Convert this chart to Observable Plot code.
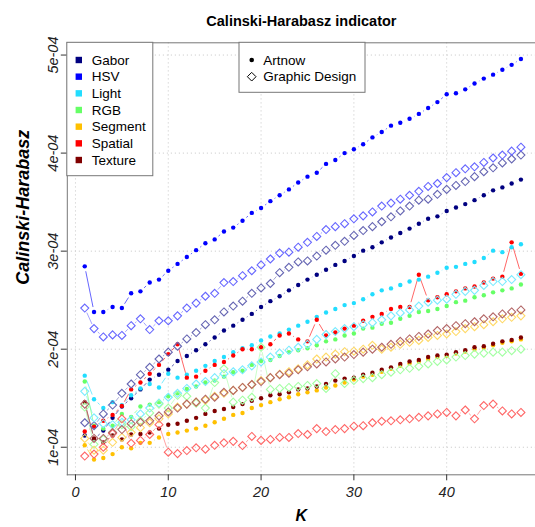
<!DOCTYPE html>
<html><head><meta charset="utf-8">
<script src="https://cdn.jsdelivr.net/npm/d3@7"></script>
<script src="https://cdn.jsdelivr.net/npm/@observablehq/plot@0.6"></script>
<style>
html,body{margin:0;padding:0;background:#fff;}
#chart{width:535px;height:527px;}
</style></head><body><div id="chart"></div>
<script>
// ---- data (values in units of 1e-4) ----
const K = d3.range(1, 49);
const features = ["Gabor","HSV","Light","RGB","Segment","Spatial","Texture"];
const featureColors = ["#000080","#0000FF","#22DDFF","#66FF66","#FFC000","#FF0000","#800000"];
const datasets = ["Artnow","Graphic Design"];

const gaborArtnow = [1.12,1.08,1.17,1.30,1.415,1.50,1.59,1.69,1.74,1.79,1.88,1.93,1.99,2.05,2.12,2.19,2.24,2.30,2.36,2.43,2.49,2.54,2.60,2.655,2.71,2.76,2.81,2.86,2.90,2.95,3.005,3.04,3.09,3.14,3.185,3.23,3.28,3.33,3.355,3.41,3.445,3.48,3.52,3.57,3.62,3.65,3.69,3.73];
const gaborGD = [1.25,1.22,1.34,1.43,1.55,1.645,1.74,1.815,1.90,1.97,2.03,2.105,2.17,2.25,2.30,2.38,2.44,2.49,2.57,2.625,2.67,2.78,2.835,2.89,2.90,2.95,3.01,3.06,3.10,3.16,3.21,3.25,3.30,3.35,3.41,3.46,3.52,3.53,3.58,3.63,3.67,3.71,3.76,3.81,3.85,3.90,3.94,3.98];
const hsvArtnow = [2.845,2.38,2.38,2.43,2.42,2.57,2.59,2.68,2.71,2.80,2.87,2.94,3.01,3.08,3.12,3.20,3.24,3.31,3.39,3.44,3.51,3.57,3.63,3.70,3.76,3.80,3.89,3.93,4.00,4.04,4.09,4.16,4.215,4.28,4.31,4.35,4.40,4.46,4.52,4.60,4.61,4.65,4.71,4.76,4.80,4.85,4.90,4.96];
const hsvGD = [2.42,2.21,2.125,2.146,2.14,2.24,2.31,2.20,2.29,2.29,2.34,2.42,2.47,2.54,2.57,2.68,2.69,2.75,2.80,2.86,2.92,2.98,2.99,3.04,3.09,3.15,3.22,3.25,3.28,3.33,3.36,3.40,3.46,3.49,3.53,3.57,3.61,3.66,3.69,3.75,3.80,3.84,3.86,3.905,3.95,3.98,4.02,4.06];
const lightArtnow = [1.73,1.49,1.40,1.46,1.43,1.53,1.60,1.645,1.61,1.75,1.71,1.74,1.78,1.83,1.88,1.92,1.97,2.01,2.04,2.09,2.13,2.16,2.20,2.24,2.28,2.33,2.375,2.41,2.45,2.47,2.51,2.56,2.60,2.62,2.655,2.69,2.71,2.74,2.78,2.83,2.84,2.87,2.89,2.93,3.005,2.99,3.04,3.07];
const lightGD = [1.57,1.30,1.24,1.23,1.255,1.28,1.34,1.40,1.45,1.51,1.55,1.60,1.645,1.67,1.71,1.75,1.77,1.79,1.83,1.87,1.92,1.96,1.99,2.02,2.05,2.10,2.15,2.18,2.21,2.23,2.25,2.27,2.30,2.34,2.37,2.40,2.44,2.48,2.50,2.51,2.56,2.59,2.60,2.65,2.69,2.69,2.71,2.76];
const rgbArtnow = [1.67,1.22,1.19,1.22,1.34,1.31,1.415,1.435,1.46,1.52,1.55,1.595,1.62,1.66,1.68,1.72,1.765,1.78,1.84,1.88,1.89,1.93,1.97,1.99,2.01,2.04,2.08,2.10,2.14,2.16,2.21,2.22,2.26,2.27,2.31,2.34,2.38,2.39,2.41,2.44,2.48,2.495,2.53,2.55,2.58,2.60,2.62,2.66];
const rgbGD = [1.41,1.03,1.08,1.15,1.23,1.21,1.27,1.35,1.44,1.40,1.53,1.52,1.45,1.40,1.66,1.80,1.46,1.48,1.51,2.02,1.59,1.60,1.61,1.62,1.63,1.65,1.60,1.75,1.65,1.68,1.70,1.71,1.74,1.765,1.79,1.805,1.825,1.85,1.875,1.89,1.92,1.935,1.95,1.96,1.97,1.97,1.985,2.00];
const segmentArtnow = [1.02,0.875,0.89,0.93,1.00,0.99,1.045,1.045,1.10,1.135,1.15,1.17,1.19,1.22,1.255,1.29,1.33,1.35,1.40,1.43,1.46,1.49,1.51,1.54,1.56,1.58,1.61,1.63,1.66,1.69,1.72,1.74,1.77,1.80,1.83,1.855,1.875,1.90,1.92,1.93,1.955,1.975,2.00,2.015,2.04,2.065,2.08,2.10];
const segmentGD = [1.09,0.97,0.97,1.05,1.10,1.15,1.20,1.25,1.29,1.34,1.41,1.44,1.46,1.48,1.52,1.55,1.58,1.61,1.64,1.68,1.71,1.745,1.77,1.80,1.84,1.90,1.92,1.95,1.975,1.98,2.00,2.04,2.00,2.02,2.05,2.07,2.09,2.12,2.14,2.155,2.18,2.21,2.23,2.25,2.28,2.31,2.325,2.34];
const spatialArtnow = [1.16,1.21,1.27,1.33,1.42,1.59,1.66,1.75,1.84,1.95,2.05,1.71,1.72,1.78,1.84,1.87,1.935,2.00,2.00,2.02,2.05,2.14,2.16,2.10,2.08,2.30,2.14,2.17,2.21,2.24,2.29,2.33,2.36,2.41,2.43,2.43,2.76,2.50,2.53,2.56,2.59,2.62,2.64,2.68,2.72,2.74,3.09,2.77];
const spatialGD = [0.91,0.93,1.00,1.14,1.29,1.04,1.07,1.13,1.23,0.95,0.935,0.966,0.994,0.98,1.02,1.045,1.06,1.017,1.11,1.07,1.08,1.10,1.10,1.14,1.13,1.19,1.16,1.18,1.19,1.215,1.22,1.25,1.265,1.27,1.28,1.29,1.305,1.32,1.34,1.355,1.32,1.38,1.29,1.425,1.44,1.37,1.34,1.355];
const textureArtnow = [1.46,1.09,1.05,1.12,1.08,1.13,1.135,1.15,1.19,1.23,1.24,1.27,1.30,1.34,1.37,1.39,1.41,1.44,1.475,1.50,1.53,1.54,1.56,1.59,1.60,1.62,1.645,1.68,1.70,1.71,1.74,1.76,1.79,1.815,1.85,1.875,1.89,1.92,1.935,1.945,1.97,1.99,2.02,2.03,2.055,2.08,2.095,2.12];
const textureGD = [1.44,1.09,1.09,1.15,1.18,1.24,1.255,1.27,1.32,1.36,1.40,1.44,1.46,1.49,1.51,1.56,1.58,1.61,1.64,1.67,1.71,1.74,1.755,1.79,1.82,1.85,1.87,1.90,1.92,1.945,1.97,2.00,2.02,2.05,2.08,2.105,2.13,2.155,2.19,2.21,2.24,2.26,2.28,2.31,2.33,2.36,2.38,2.40];

const xTicks = [0, 10, 20, 30, 40];
const yTicks = [1, 2, 3, 4, 5];
const yTickLabels = ["1e-04","2e-04","3e-04","4e-04","5e-04"];

// ---- build tables ----
const seriesValues = {
  Gabor: [gaborArtnow, gaborGD], HSV: [hsvArtnow, hsvGD], Light: [lightArtnow, lightGD],
  RGB: [rgbArtnow, rgbGD], Segment: [segmentArtnow, segmentGD],
  Spatial: [spatialArtnow, spatialGD], Texture: [textureArtnow, textureGD]
};
const keys = [], keyColors = [];
const pts = [], segs = [];
features.forEach((f, i) => {
  datasets.forEach((ds, j) => {
    const key = f + " / " + ds;
    keys.push(key);
    keyColors.push(j === 0 ? featureColors[i] : d3.interpolateRgb(featureColors[i], "#ffffff")(0.4));
    const vals = seriesValues[f][j];
    vals.forEach((v, t) => {
      pts.push({key, ds, k: K[t], v});
      if (t > 0) segs.push({key, k1: K[t-1], v1: vals[t-1], k2: K[t], v2: v});
    });
  });
});

const font = "'Liberation Sans', Arial, Helvetica, sans-serif";
const plot = Plot.plot({
  width: 535, height: 527,
  marginLeft: 66.8, marginRight: 0, marginTop: 42.3, marginBottom: 52.7,
  x: {domain: [-0.88, 49.57]},
  y: {domain: [0.719, 5.125]},
  color: {domain: keys, range: keyColors},
  style: {fontFamily: font, background: "#fff", overflow: "visible"},
  marks: [
    Plot.gridX(xTicks, {stroke: "#cfcfcf", strokeOpacity: 1, strokeDasharray: "1.2,2.8"}),
    Plot.gridY(yTicks, {stroke: "#cfcfcf", strokeOpacity: 1, strokeDasharray: "1.2,2.8"}),
    Plot.frame({anchor: "left", stroke: "#777"}),
    Plot.frame({anchor: "top", stroke: "#777"}),
    Plot.frame({anchor: "bottom", stroke: "#777"}),
    Plot.axisX(xTicks, {tickSize: 6, tickPadding: 6, fontSize: 14.5, fontStyle: "italic", stroke: "#333", fill: "#222"}),
    Plot.axisY(yTicks, {tickSize: 6, tickRotate: -90, tickFormat: (d) => yTickLabels[yTicks.indexOf(d)], fontSize: 14.5, fontStyle: "italic", stroke: "#333", fill: "#222"}),
    Plot.arrow(segs, {x1: "k1", y1: "v1", x2: "k2", y2: "v2", stroke: "key", strokeOpacity: 0.6, strokeWidth: 1,
      headLength: 0, insetStart: 5, insetEnd: 5, strokeLinecap: "butt"}),
    Plot.dot(pts.filter(d => d.ds === "Artnow"), {x: "k", y: "v", r: 2.2, fill: "key", stroke: null}),
    Plot.dot(pts.filter(d => d.ds !== "Artnow"), {x: "k", y: "v", r: 3.6, symbol: "diamond2", stroke: "key", fill: "none", strokeWidth: 1.1}),
    Plot.text(["Calinski-Harabasz indicator"], {frameAnchor: "top", dy: -27, fontWeight: "bold", fontSize: 14.5, fill: "#000"}),
    Plot.text(["Calinski-Harabasz"], {frameAnchor: "left", dx: -44, dy: 26, rotate: -90, fontWeight: "bold", fontStyle: "italic", fontSize: 18, fill: "#000"}),
    Plot.text(["K"], {frameAnchor: "bottom", dy: 46, fontWeight: "bold", fontStyle: "italic", fontSize: 16, fill: "#000"})
  ]
});
document.getElementById("chart").appendChild(plot);

// ---- legends (drawn on top of the plot) ----
const svg = d3.select(plot);
const lg1 = svg.append("g").attr("font-family", font).attr("font-size", 13.5).attr("text-anchor", "start");
lg1.append("rect").attr("x", 66.8).attr("y", 42.3).attr("width", 86).attr("height", 133.4)
  .attr("fill", "#fff").attr("stroke", "#777");
features.forEach((f, i) => {
  const y = 60 + i * 16.67;
  lg1.append("rect").attr("x", 75.6).attr("y", y - 3.2).attr("width", 6.4).attr("height", 6.4).attr("fill", featureColors[i]);
  lg1.append("text").attr("x", 91.7).attr("y", y).attr("dy", "0.35em").attr("text-anchor", "start").attr("fill", "#000").text(f);
});
const lg2 = svg.append("g").attr("font-family", font).attr("font-size", 13.5).attr("text-anchor", "start");
lg2.append("rect").attr("x", 239).attr("y", 42.3).attr("width", 126).attr("height", 50)
  .attr("fill", "#fff").attr("stroke", "#777");
lg2.append("circle").attr("cx", 251.7).attr("cy", 60).attr("r", 2.3).attr("fill", "#000");
lg2.append("path").attr("d", d3.symbol(d3.symbolDiamond2, 3.9 * 3.9 * Math.PI)()).attr("transform", "translate(251.7,76.7)")
  .attr("fill", "none").attr("stroke", "#000").attr("stroke-width", 1);
datasets.forEach((ds, i) => {
  lg2.append("text").attr("x", 263.3).attr("y", 60 + i * 16.67).attr("dy", "0.35em").attr("text-anchor", "start").attr("fill", "#000").text(ds);
});
</script></body></html>
